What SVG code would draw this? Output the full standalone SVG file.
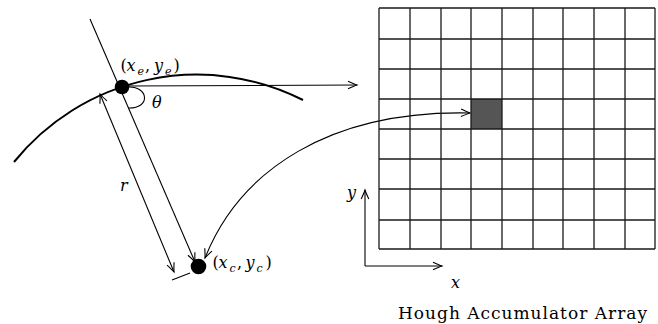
<svg xmlns="http://www.w3.org/2000/svg" width="658" height="324" viewBox="0 0 658 324">
<style>
.ln{fill:none;stroke:#000;stroke-width:1.1}
.arc{fill:none;stroke:#000;stroke-width:2}
.grid{fill:none;stroke:#1a1a1a;stroke-width:1.3}
.m{font-family:'DejaVu Serif','Liberation Serif',serif;font-style:italic;font-size:16px;fill:#000}
.u{font-family:'DejaVu Serif','Liberation Serif',serif;font-size:16px;fill:#000}
.s{font-size:11px}
.cap{font-family:'DejaVu Serif','Liberation Serif',serif;font-size:17px;fill:#000}
</style>
<defs>
<marker id="ah" markerUnits="userSpaceOnUse" markerWidth="14" markerHeight="12" viewBox="-10 -6 12 12" refX="0" refY="0" orient="auto-start-reverse">
<path d="M-9,-3.8 Q-3,-1 0,0 Q-3,1 -9,3.8" fill="none" stroke="#000" stroke-width="1.1"/>
</marker>
</defs>
<g id="edge-curve">
<path class="arc" d="M14,162 A235,235 0 0 1 303,100"/>
</g>
<g id="connectors">
<line class="ln" x1="90" y1="19" x2="195" y2="262" marker-end="url(#ah)"/>
<line class="ln" x1="100" y1="94" x2="174" y2="272" marker-start="url(#ah)" marker-end="url(#ah)"/>
<line class="ln" x1="172" y1="280" x2="190" y2="273"/>
<line class="ln" x1="126" y1="86" x2="357" y2="85" marker-end="url(#ah)"/>
<path class="ln" d="M128,87 C149,86 151,109 128,108"/>
<path class="ln" d="M205,258 C240,170 330,110 470,113" marker-start="url(#ah)" marker-end="url(#ah)"/>
<line class="ln" x1="365" y1="266" x2="365" y2="190" marker-end="url(#ah)"/>
<line class="ln" x1="365" y1="266" x2="442" y2="266" marker-end="url(#ah)"/>
</g>
<g id="node-edge-point">
<circle cx="122" cy="87" r="7.3" fill="#000"/>
<text class="u" y="71"><tspan x="120.5">(</tspan><tspan class="m" x="126.5">x</tspan><tspan class="m s" x="137.5" dy="3.5">e</tspan><tspan x="145" dy="-3.5">,</tspan><tspan class="m" x="154">y</tspan><tspan class="m s" x="165" dy="3.5">e</tspan><tspan x="173.5" dy="-3.5">)</tspan></text>
</g>
<g id="node-center">
<circle cx="198.5" cy="266.5" r="7.8" fill="#000"/>
<text class="u" y="268"><tspan x="212.5">(</tspan><tspan class="m" x="218.5">x</tspan><tspan class="m s" x="229.5" dy="3.5">c</tspan><tspan x="237" dy="-3.5">,</tspan><tspan class="m" x="245.5">y</tspan><tspan class="m s" x="256.5" dy="3.5">c</tspan><tspan x="265.5" dy="-3.5">)</tspan></text>
</g>
<g id="labels">
<text class="m" x="152" y="108">θ</text>
<text class="m" x="120" y="191">r</text>
<text class="m" x="347" y="198">y</text>
<text class="m" x="451" y="288">x</text>
</g>
<g id="node-accumulator">
<rect x="471" y="99" width="31" height="30" fill="#555"/>
<path class="grid" d="M379,8V249M410,8V249M441,8V249M471,8V249M502,8V249M533,8V249M563,8V249M594,8V249M625,8V249M655,8V249M379,8H655M379,39H655M379,69H655M379,99H655M379,129H655M379,159H655M379,189H655M379,220H655M379,249H655"/>
<text class="cap" x="398" y="319" textLength="249" lengthAdjust="spacing">Hough Accumulator Array</text>
</g>
</svg>
